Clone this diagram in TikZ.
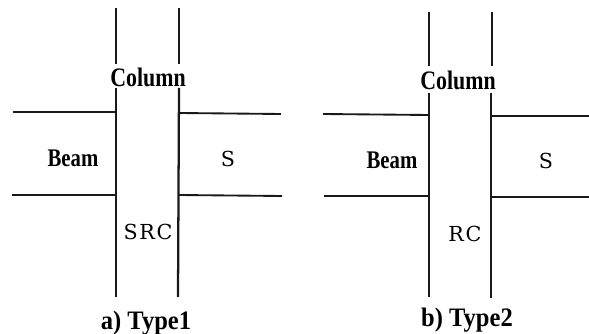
\documentclass[tikz,border=0pt]{standalone}
\usepackage{fontspec}
\setmainfont{Liberation Serif}
\newfontfamily\widefont{DejaVu Serif}
\tikzset{
  member/.style={line width=1.7pt,black!90,line cap=butt},
  beam/.style={line width=1.4pt,black!90,line cap=butt},
  boldlabel/.style={inner sep=0pt,xscale=0.82,font=\bfseries\fontsize{20}{20}\selectfont},
  beamlabel/.style={inner sep=0pt,xscale=0.82,font=\bfseries\fontsize{19}{19}\selectfont},
  matlabel/.style={inner sep=0pt,font=\widefont\fontsize{15.5}{16}\selectfont\addfontfeature{LetterSpace=8}},
  caption/.style={inner sep=0pt,xscale=0.92,font=\bfseries\fontsize{20}{20}\selectfont},
}
\begin{document}
\begin{tikzpicture}[x=0.75pt,y=-0.75pt]
\useasboundingbox (0,0) rectangle (589,334);
% Type 1
\coordinate (a1) at (116,8);   \coordinate (a2) at (116,64);
\coordinate (a3) at (116,88);  \coordinate (a4) at (116,297);
\coordinate (a5) at (179,8);   \coordinate (a6) at (179,64);
\coordinate (a7) at (179,88);  \coordinate (a8) at (178,297);
\coordinate (a9) at (13,112);  \coordinate (a10) at (116,112);
\coordinate (a11) at (12,195); \coordinate (a12) at (116,195);
\coordinate (a13) at (179,113);\coordinate (a14) at (281,114);
\coordinate (a15) at (179,195);\coordinate (a16) at (282,196);
\draw[member] (a1) -- (a2);
\draw[member] (a3) -- (a4);
\draw[member] (a5) -- (a6);
\draw[member] (a7) -- (a8);
\draw[beam] (a9) -- (a10);
\draw[beam] (a11) -- (a12);
\draw[beam] (a13) -- (a14);
\draw[beam] (a15) -- (a16);
\node[boldlabel] (colA) at (148,77) {Column};
\node[beamlabel] (beamA) at (73,158) {Beam};
\node[matlabel] (sA) at (228,159) {S};
\node[matlabel] (srcA) at (148,232) {SRC};
\node[caption] (capA) at (146,323) {a) Type1};
% Type 2
\coordinate (b1) at (429,12);  \coordinate (b2) at (429,66);
\coordinate (b3) at (429,93);  \coordinate (b4) at (429,297);
\coordinate (b5) at (492,12);  \coordinate (b6) at (492,66);
\coordinate (b7) at (491,93);  \coordinate (b8) at (491,298);
\coordinate (b9) at (323,114); \coordinate (b10) at (429,115);
\coordinate (b11) at (324,196);\coordinate (b12) at (429,196);
\coordinate (b13) at (491,116);\coordinate (b14) at (589,116);
\coordinate (b15) at (491,197);\coordinate (b16) at (589,197);
\draw[member] (b1) -- (b2);
\draw[member] (b3) -- (b4);
\draw[member] (b5) -- (b6);
\draw[member] (b7) -- (b8);
\draw[beam] (b9) -- (b10);
\draw[beam] (b11) -- (b12);
\draw[beam] (b13) -- (b14);
\draw[beam] (b15) -- (b16);
\node[boldlabel] (colB) at (458,80) {Column};
\node[beamlabel] (beamB) at (392,160) {Beam};
\node[matlabel] (sB) at (546,161) {S};
\node[matlabel] (rcB) at (465,234) {RC};
\node[caption] (capB) at (467,320) {b) Type2};
\end{tikzpicture}
\end{document}
